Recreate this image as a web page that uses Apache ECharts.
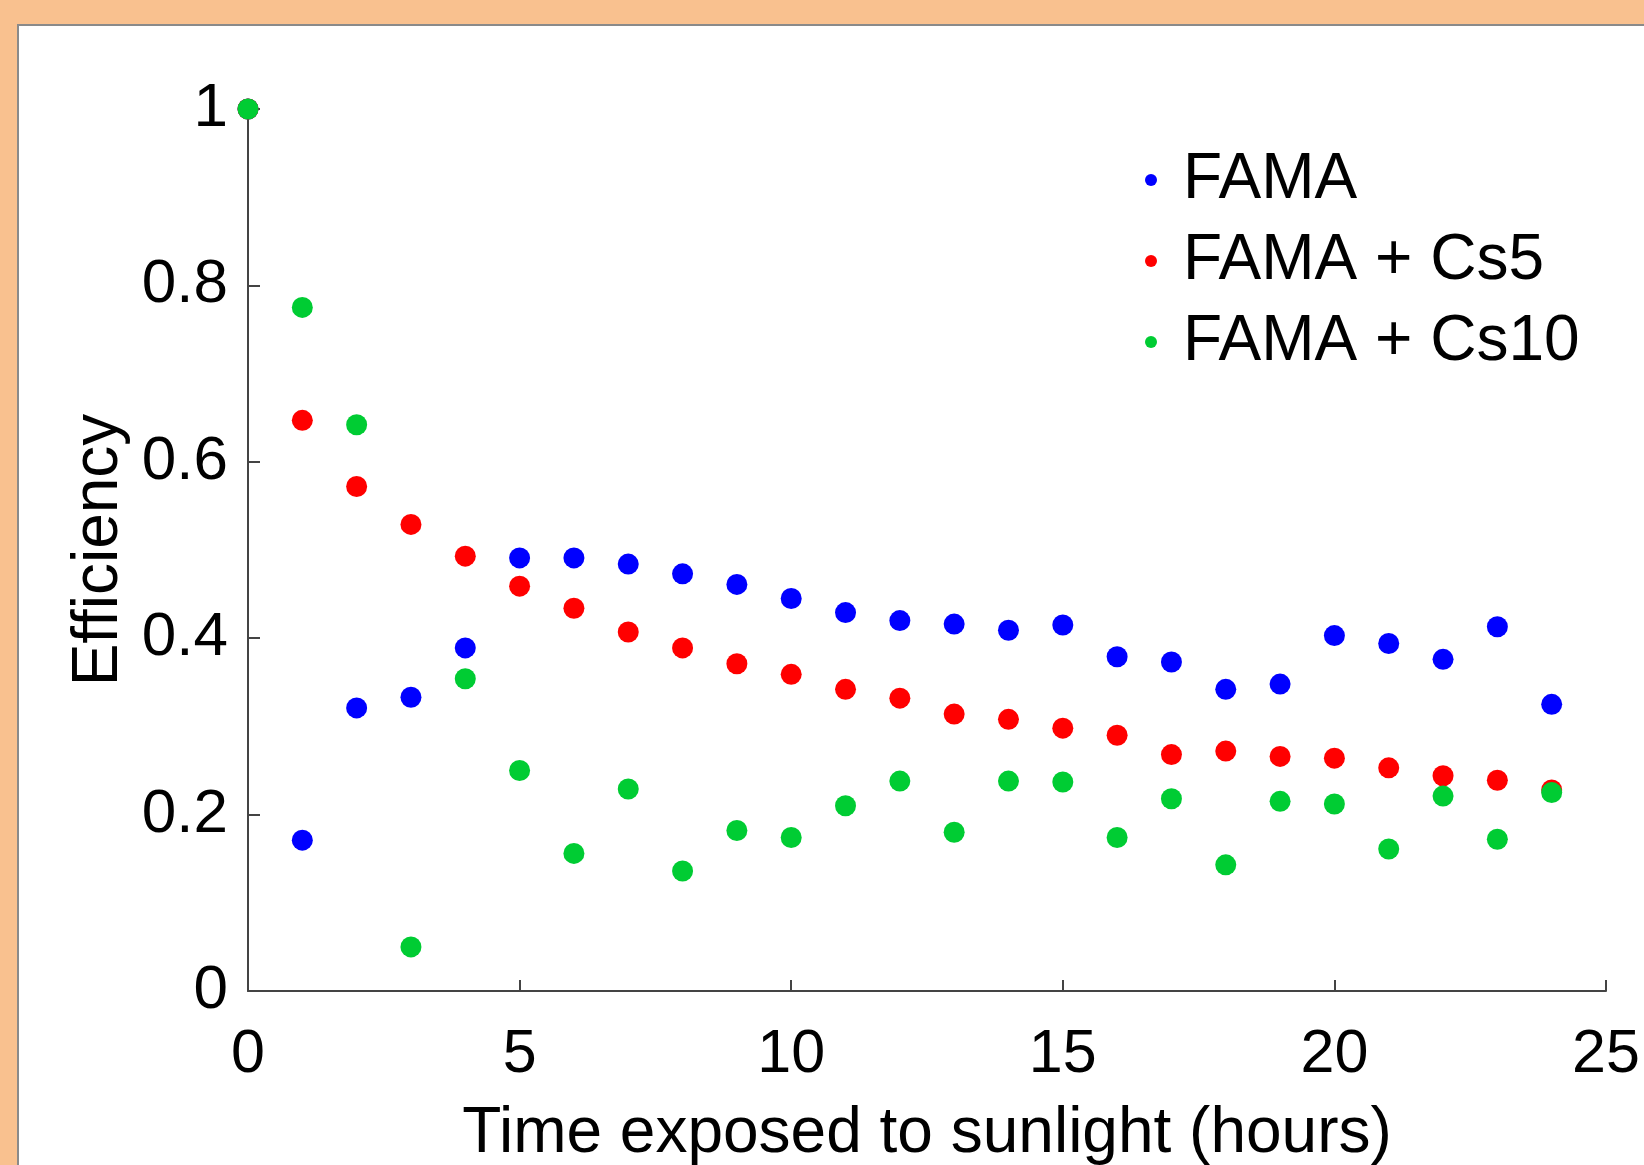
<!DOCTYPE html>
<html lang="en">
<head>
  <meta charset="UTF-8">
  <title>Efficiency vs sunlight</title>
  <script src="https://cdnjs.cloudflare.com/ajax/libs/echarts/6.0.0/echarts.min.js"></script>
  <style>
    html, body { margin: 0; padding: 0; background: #f9c18f; overflow: hidden; }
    #panel {
      position: absolute; left: 17px; top: 24px; width: 1640px; height: 1150px;
      background: #fff; border: 2px solid #8a8a8a;
    }
    #chart { position: absolute; left: 0; top: 0; width: 1644px; height: 1165px; }
  </style>
</head>
<body>
<div id="panel"></div>
<div id="chart"></div>

<script>
  // hours exposed
  var hours = [0, 1, 2, 3, 4, 5, 6, 7, 8, 9, 10, 11, 12, 13, 14, 15, 16, 17, 18, 19, 20, 21, 22, 23, 24];

  // normalised efficiency
  var fama = [1, 0.171, 0.321, 0.333, 0.389, 0.491, 0.491, 0.484, 0.473, 0.461, 0.445, 0.429, 0.420,
              0.416, 0.409, 0.415, 0.379, 0.373, 0.342, 0.348, 0.403, 0.394, 0.376, 0.413, 0.325];
  var famaCs5 = [1, 0.647, 0.572, 0.529, 0.493, 0.459, 0.434, 0.407, 0.389, 0.371, 0.359, 0.342, 0.332,
                 0.314, 0.308, 0.298, 0.290, 0.268, 0.272, 0.266, 0.264, 0.253, 0.244, 0.239, 0.228];
  var famaCs10 = [1, 0.775, 0.642, 0.050, 0.354, 0.250, 0.156, 0.229, 0.136, 0.182, 0.174, 0.210, 0.238,
                  0.180, 0.238, 0.237, 0.174, 0.218, 0.143, 0.215, 0.212, 0.161, 0.221, 0.172, 0.225];

  var seriesNames = ['FAMA', 'FAMA + Cs5', 'FAMA + Cs10'];
  var seriesColors = ['#0000ff', '#ff0000', '#00cc33'];

  function pairs(vals) {
    return hours.map(function (h, i) { return [h, vals[i]]; });
  }

  var font = 'Liberation Sans, Arial, sans-serif';
  var chart = echarts.init(document.getElementById('chart'), null, { renderer: 'canvas' });

  var allData = [fama, famaCs5, famaCs10];

  var option = {
    animation: false,
    backgroundColor: 'transparent',
    textStyle: { fontFamily: font },
    grid: { left: 248, right: 38, top: 109, bottom: 174, containLabel: false, outerBoundsMode: 'none' },
    legend: {
      orient: 'vertical',
      left: 1140,
      top: 143,
      icon: 'circle',
      itemWidth: 54,
      itemHeight: 12,
      itemGap: 17,
      selectedMode: false,
      data: seriesNames,
      textStyle: { fontSize: 64, lineHeight: 64, color: '#000', fontFamily: font }
    },
    xAxis: {
      type: 'value',
      min: 0,
      max: 25,
      interval: 5,
      name: 'Time exposed to sunlight (hours)',
      nameLocation: 'middle',
      nameGap: 111,
      nameTextStyle: { fontSize: 64, color: '#000', fontFamily: font },
      axisLine: { show: true, onZero: false, lineStyle: { color: '#444', width: 2 } },
      axisTick: { show: true, inside: true, length: 11, lineStyle: { color: '#444', width: 2 } },
      axisLabel: { fontSize: 61, color: '#000', margin: 34, fontFamily: font },
      splitLine: { show: false }
    },
    yAxis: {
      type: 'value',
      min: 0,
      max: 1,
      interval: 0.2,
      name: 'Efficiency',
      nameLocation: 'middle',
      nameGap: 113,
      nameRotate: 90,
      nameTextStyle: { fontSize: 64, color: '#000', fontFamily: font },
      axisLine: { show: true, onZero: false, lineStyle: { color: '#444', width: 2 } },
      axisTick: { show: true, inside: true, length: 12, lineStyle: { color: '#444', width: 2 } },
      axisLabel: { fontSize: 62, color: '#000', margin: 20, fontFamily: font },
      splitLine: { show: false }
    },
    series: seriesNames.map(function (name, k) {
      return {
        name: name,
        type: 'scatter',
        symbol: 'circle',
        symbolSize: 21,
        itemStyle: { color: seriesColors[k], opacity: 1 },
        data: pairs(allData[k])
      };
    })
  };

  chart.setOption(option);
</script>
</body>
</html>
